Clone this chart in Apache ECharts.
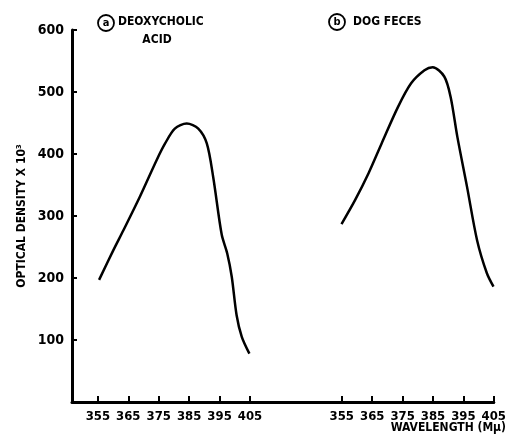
<!DOCTYPE html>
<html>
<head>
<meta charset="utf-8">
<script src="https://cdn.jsdelivr.net/npm/echarts@6/dist/echarts.min.js"></script>
<style>
html,body{margin:0;padding:0;background:#fff;}
#c{width:509px;height:446px;}
</style>
</head>
<body>
<div id="c"></div>
<script>
const wavelengthTicks = [355, 365, 375, 385, 395, 405];
const densityTicks = [100, 200, 300, 400, 500, 600];
const deoxyWavelength = [355.4, 360.1, 363.4, 368.8, 374.3, 377.1, 380.3, 384.2, 388.0, 390.8, 392.9, 395.7, 397.5, 399.0, 400.6, 402.3, 404.8];
const deoxyDensity    = [197, 245, 277, 331, 390, 417, 441, 449, 441, 417, 363, 270, 240, 202, 140, 105, 78];
const dogWavelength = [354.9, 359.4, 363.8, 368.1, 373.5, 377.8, 382.2, 384.9, 388.7, 390.8, 393.0, 396.2, 399.5, 402.7, 404.9];
const dogDensity    = [287, 326, 369, 417, 476, 514, 535, 540, 525, 492, 428, 347, 261, 208, 186];

const FONT = "'DejaVu Sans Condensed','DejaVu Sans',sans-serif";
const chart = echarts.init(document.getElementById('c'), null, {renderer: 'canvas'});

function zip(xs, ys) { return xs.map((x, i) => [x, ys[i]]); }

const xAxisCommon = {
  type: 'value', max: 405,
  splitLine: {show: false},
  axisLine: {show: true, lineStyle: {color: '#000', width: 3}},
  axisTick: {show: true, inside: true, length: 6, lineStyle: {color: '#000', width: 2}, customValues: wavelengthTicks},
  axisLabel: {show: true, color: '#000', fontFamily: FONT, fontWeight: 'bold', fontSize: 13, margin: 8, customValues: wavelengthTicks}
};

chart.setOption({
  animation: false,
  backgroundColor: '#fff',
  grid: [
    {left: 72, top: 30, width: 178, height: 372},
    {left: 250, top: 30, width: 247, height: 372}
  ],
  xAxis: [
    Object.assign({}, xAxisCommon, {gridIndex: 0, min: 346.5}),
    Object.assign({}, xAxisCommon, {gridIndex: 1, min: 324.8})
  ],
  yAxis: [
    {
      gridIndex: 0, type: 'value', min: 0, max: 600,
      splitLine: {show: false},
      axisLine: {show: true, lineStyle: {color: '#000', width: 3}},
      axisTick: {show: true, inside: true, length: 5, lineStyle: {color: '#000', width: 2}, customValues: densityTicks},
      axisLabel: {show: true, color: '#000', fontFamily: FONT, fontWeight: 'bold', fontSize: 14, margin: 8, customValues: densityTicks},
      name: 'OPTICAL DENSITY X 10³',
      nameLocation: 'middle', nameGap: 44, nameRotate: 90,
      nameTextStyle: {color: '#000', fontFamily: FONT, fontWeight: 'bold', fontSize: 12}
    },
    {gridIndex: 1, type: 'value', min: 0, max: 600, show: false}
  ],
  series: [
    {type: 'line', xAxisIndex: 0, yAxisIndex: 0, data: zip(deoxyWavelength, deoxyDensity), smooth: 0.3, showSymbol: false, lineStyle: {color: '#000', width: 2.5}},
    {type: 'line', xAxisIndex: 1, yAxisIndex: 1, data: zip(dogWavelength, dogDensity), smooth: 0.3, showSymbol: false, lineStyle: {color: '#000', width: 2.5}}
  ],
  graphic: [
    {type: 'circle', shape: {cx: 106, cy: 23, r: 8}, style: {fill: 'none', stroke: '#000', lineWidth: 1.8}},
    {type: 'text', x: 106, y: 23, style: {text: 'a', font: "bold 11px " + FONT, fill: '#000', align: 'center', verticalAlign: 'middle'}},
    {type: 'text', x: 118, y: 22, style: {text: 'DEOXYCHOLIC', font: "bold 12px " + FONT, fill: '#000', align: 'left', verticalAlign: 'middle'}},
    {type: 'text', x: 157, y: 40, style: {text: 'ACID', font: "bold 12px " + FONT, fill: '#000', align: 'center', verticalAlign: 'middle'}},
    {type: 'circle', shape: {cx: 337, cy: 22, r: 8}, style: {fill: 'none', stroke: '#000', lineWidth: 1.8}},
    {type: 'text', x: 337, y: 22, style: {text: 'b', font: "bold 11px " + FONT, fill: '#000', align: 'center', verticalAlign: 'middle'}},
    {type: 'text', x: 353, y: 22, style: {text: 'DOG FECES', font: "bold 12px " + FONT, fill: '#000', align: 'left', verticalAlign: 'middle'}},
    {type: 'text', x: 506, y: 428, style: {text: 'WAVELENGTH (Mμ)', font: "bold 12px " + FONT, fill: '#000', align: 'right', verticalAlign: 'middle'}}
  ]
});
</script>
</body>
</html>
